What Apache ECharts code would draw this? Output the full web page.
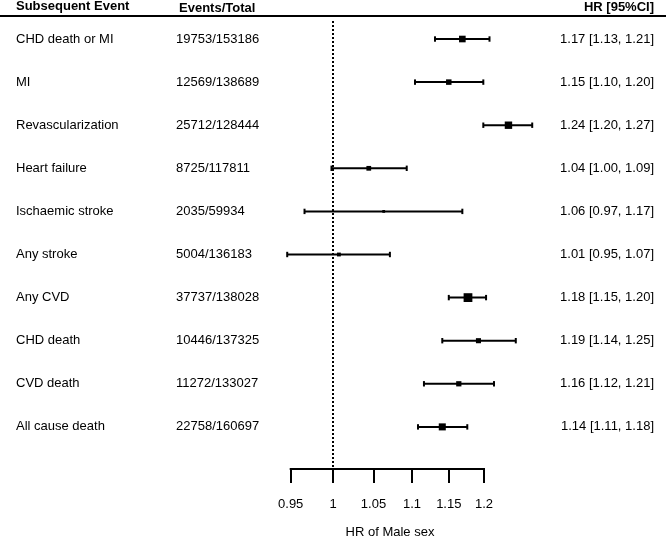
<!DOCTYPE html>
<html><head><meta charset="utf-8">
<script src="https://cdn.jsdelivr.net/npm/echarts@6/dist/echarts.min.js"></script>
<style>html,body{margin:0;padding:0;background:#fff}#c{width:666px;height:539px}</style>
</head><body><div id="c"></div>
<script>
// ---- data ----
const eventNames = ['CHD death or MI','MI','Revascularization','Heart failure','Ischaemic stroke','Any stroke','Any CVD','CHD death','CVD death','All cause death'];
const eventCounts = [19753,12569,25712,8725,2035,5004,37737,10446,11272,22758];
const totals = [153186,138689,128444,117811,59934,136183,138028,137325,133027,160697];
const hr = [1.169,1.150,1.236,1.044,1.063,1.007,1.177,1.192,1.164,1.141];
const lower = [1.131,1.104,1.199,0.998,0.966,0.946,1.150,1.141,1.116,1.108];
const upper = [1.208,1.199,1.272,1.093,1.169,1.071,1.203,1.247,1.2146,1.176];
const ticks = [0.95,1,1.05,1.1,1.15,1.2];
const tickLabels = ['0.95','1','1.05','1.1','1.15','1.2'];
const headers = ['Subsequent Event','Events/Total','HR [95%CI]'];
const axisTitle = 'HR of Male sex';

// ---- layout ----
const FONT = '"Liberation Sans", Arial, sans-serif';
const PX_PER_LN = 193.3 / Math.log(1.2 / 0.95);
const XMIN = Math.log(0.95) - 42.7 / PX_PER_LN;
const XMAX = Math.log(0.95) + 241.3 / PX_PER_LN;
const YMIN = -0.418, YMAX = 9.977;
const rowIdx = eventNames.map((_, i) => i);
const lnTicks = ticks.map(Math.log);

function tickLabelFor(v) {
  let best = 0;
  lnTicks.forEach((t, i) => { if (Math.abs(t - v) < Math.abs(lnTicks[best] - v)) best = i; });
  return tickLabels[best];
}

function yAxisBase(extra) {
  return Object.assign({
    type: 'value', inverse: true, min: YMIN, max: YMAX,
    splitLine: { show: false }, axisTick: { show: false },
    axisLine: { show: false, onZero: false }
  }, extra);
}

const chart = echarts.init(document.getElementById('c'), null, { renderer: 'canvas' });
chart.setOption({
  animation: false,
  backgroundColor: '#fff',
  grid: { left: 248, right: 134, top: 21, bottom: 70, containLabel: false, outerBoundsMode: 'none' },
  xAxis: {
    type: 'value', min: XMIN, max: XMAX,
    splitLine: { show: false },
    axisLine: { show: false, onZero: false },
    axisTick: { show: true, customValues: lnTicks, length: 14, lineStyle: { color: '#000', width: 2 } },
    axisLabel: { show: true, customValues: lnTicks, margin: 28.5, fontSize: 13, color: '#000', fontFamily: FONT, formatter: tickLabelFor },
    name: axisTitle, nameLocation: 'middle', nameGap: 57,
    nameTextStyle: { fontSize: 13, color: '#000', fontFamily: FONT }
  },
  yAxis: [
    yAxisBase({ position: 'left', axisLabel: { customValues: rowIdx, align: 'left', margin: 232, padding: [0, 0, 3, 0], fontSize: 13, color: '#000', fontFamily: FONT, formatter: v => eventNames[Math.round(v)] } }),
    yAxisBase({ position: 'left', axisLabel: { customValues: rowIdx, align: 'left', margin: 72, padding: [4, 0, 0, 0], fontSize: 13, color: '#000', fontFamily: FONT, formatter: v => eventCounts[Math.round(v)] + '/' + totals[Math.round(v)] } }),
    yAxisBase({ position: 'right', axisLabel: { customValues: rowIdx, align: 'right', margin: 122, padding: [0, 0, 2, 0], fontSize: 13, color: '#000', fontFamily: FONT, formatter: v => { const i = Math.round(v); return hr[i].toFixed(2) + ' [' + lower[i].toFixed(2) + ', ' + upper[i].toFixed(2) + ']'; } } })
  ],
  graphic: [
    { type: 'rect', shape: { x: 0, y: 15, width: 666, height: 2 }, style: { fill: '#000' }, silent: true },
    { type: 'text', x: 16, y: 6.5, style: { text: headers[0], font: 'bold 13px ' + FONT, fill: '#000', align: 'left', verticalAlign: 'middle' } },
    { type: 'text', x: 179, y: 8, style: { text: headers[1], font: 'bold 13px ' + FONT, fill: '#000', align: 'left', verticalAlign: 'middle' } },
    { type: 'text', x: 654, y: 7.5, style: { text: headers[2], font: 'bold 13px ' + FONT, fill: '#000', align: 'right', verticalAlign: 'middle' } }
  ],
  series: [
    {
      type: 'line', xAxisIndex: 0, yAxisIndex: 0, clip: false, silent: true,
      symbol: 'none',
      lineStyle: { color: '#000', width: 2, cap: 'square' },
      data: [[lnTicks[0], YMAX], [lnTicks[lnTicks.length - 1], YMAX]],
      markLine: {
        symbol: 'none', silent: true, label: { show: false },
        lineStyle: { type: 'dotted', width: 2, color: '#000' },
        data: [{ xAxis: 0 }]
      }
    },
    {
      type: 'custom', xAxisIndex: 0, yAxisIndex: 0, clip: false, silent: true,
      data: eventNames.map((_, i) => [i, Math.log(hr[i]), Math.log(lower[i]), Math.log(upper[i]), eventCounts[i]]),
      encode: { x: [1, 2, 3], y: 0 },
      renderItem: function (params, api) {
        const y = api.value(0);
        const p = api.coord([api.value(1), y]);
        const l = api.coord([api.value(2), y]);
        const h = api.coord([api.value(3), y]);
        const s = 1 + 0.04 * Math.sqrt(api.value(4));
        const cap = 2.7;
        const st = { stroke: '#000', lineWidth: 2 };
        return {
          type: 'group', children: [
            { type: 'line', shape: { x1: l[0], y1: l[1], x2: h[0], y2: h[1] }, style: st },
            { type: 'line', shape: { x1: l[0], y1: l[1] - cap, x2: l[0], y2: l[1] + cap }, style: st },
            { type: 'line', shape: { x1: h[0], y1: h[1] - cap, x2: h[0], y2: h[1] + cap }, style: st },
            { type: 'rect', shape: { x: p[0] - s / 2, y: p[1] - s / 2, width: s, height: s }, style: { fill: '#000' } }
          ]
        };
      }
    }
  ]
});
</script>
</body></html>
